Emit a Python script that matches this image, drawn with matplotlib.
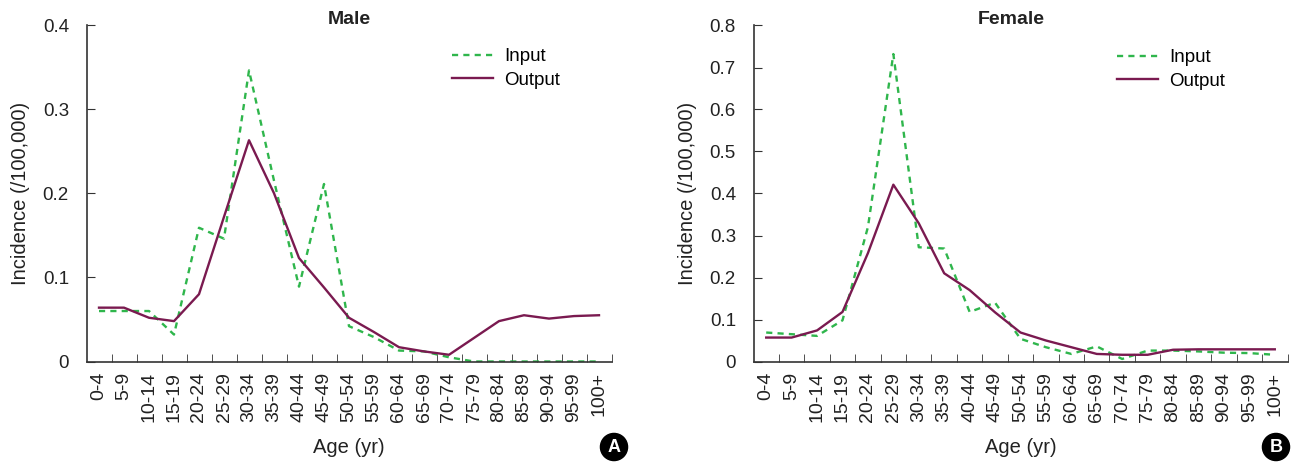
import matplotlib
matplotlib.use("Agg")
import matplotlib.pyplot as plt
import numpy as np

plt.rcParams["font.family"] = ["Liberation Sans", "DejaVu Sans"]

ages = ["0-4", "5-9", "10-14", "15-19", "20-24", "25-29", "30-34", "35-39",
        "40-44", "45-49", "50-54", "55-59", "60-64", "65-69", "70-74", "75-79",
        "80-84", "85-89", "90-94", "95-99", "100+"]

male_input = [0.060, 0.060, 0.060, 0.032, 0.159, 0.146, 0.346, 0.215, 0.089, 0.211,
              0.042, 0.029, 0.013, 0.012, 0.005, 0.0, 0.0, 0.0, 0.0, 0.0, 0.0]
male_output = [0.064, 0.064, 0.052, 0.048, 0.080, 0.172, 0.263, 0.200, 0.123, 0.088,
               0.052, 0.035, 0.017, 0.012, 0.008, 0.028, 0.048, 0.055, 0.051, 0.054, 0.055]

female_input = [0.069, 0.065, 0.061, 0.098, 0.320, 0.732, 0.272, 0.269, 0.118, 0.140,
                0.054, 0.034, 0.018, 0.036, 0.006, 0.026, 0.026, 0.024, 0.021, 0.020, 0.016]
female_output = [0.057, 0.057, 0.074, 0.118, 0.258, 0.421, 0.329, 0.210, 0.170, 0.117,
                 0.069, 0.050, 0.034, 0.018, 0.016, 0.016, 0.028, 0.029, 0.029, 0.029, 0.029]

GREEN = "#2fb64c"
MAROON = "#7a1a50"

W, H = 1296, 463
fig = plt.figure(figsize=(W / 100, H / 100), dpi=100)

# pixel boxes: left, bottom, right, top
panels = [
    dict(box=(87, 361.5, 611.5, 25), title="Male", tx=349, inp=male_input, out=male_output,
         ymax=0.4, yticks=[0, 0.1, 0.2, 0.3, 0.4], letter="A", lx=614, leg=(452, 48)),
    dict(box=(754, 361.5, 1287.5, 25.5), title="Female", tx=1011, inp=female_input, out=female_output,
         ymax=0.8, yticks=[0, 0.1, 0.2, 0.3, 0.4, 0.5, 0.6, 0.7, 0.8], letter="B", lx=1276, leg=(1117, 49)),
]

x = np.arange(len(ages))
for p in panels:
    l, b, r, t = p["box"]
    ax = fig.add_axes([l / W, 1 - b / H, (r - l) / W, (b - t) / H])
    ax.plot(x, p["inp"], color=GREEN, linestyle=(0, (2.6, 2.2)), lw=1.7, label="Input")
    ax.plot(x, p["out"], color=MAROON, lw=1.7, label="Output")
    ax.set_xlim(-0.48, 20.5)
    ax.set_ylim(0, p["ymax"])
    ax.spines["top"].set_visible(False)
    ax.spines["right"].set_visible(False)
    for s in ("left", "bottom"):
        ax.spines[s].set_color("#333333")
        ax.spines[s].set_linewidth(1.2)
    ax.set_xticks(x)
    ax.set_xticklabels(ages, rotation=90, fontsize=14, color="#222222")
    ax.set_xticks(x + 0.5, minor=True)
    ax.tick_params(axis="x", which="major", length=0, pad=7.5)
    ax.tick_params(axis="x", which="minor", direction="in", length=6, color="#333333")
    ax.set_yticks(p["yticks"])
    ax.set_yticklabels(["0"] + [f"{v:g}" for v in p["yticks"][1:]], fontsize=13.5, color="#222222")
    ax.tick_params(axis="y", direction="in", length=6, color="#333333", pad=13)
    ax.set_xlabel("Age (yr)", fontsize=14.5, labelpad=11, color="#222222")
    ax.set_ylabel("Incidence (/100,000)", fontsize=14.5, labelpad=9, color="#222222")
    fig.text(p["tx"] / W, 1 - 20 / H, p["title"], ha="center", va="center",
             fontsize=14, fontweight="bold", color="#222222")
    lx, ly = p["leg"]
    ax.legend(loc="upper left", bbox_to_anchor=(lx / W, 1 - ly / H),
              bbox_transform=fig.transFigure, frameon=False, borderpad=0,
              borderaxespad=0, fontsize=13.5, handlelength=2.2,
              handletextpad=0.6, labelspacing=0.34)
    fig.text(p["lx"] / W, 1 - 447 / H, p["letter"], ha="center", va="center",
             color="white", fontsize=13, fontweight="bold",
             bbox=dict(boxstyle="circle,pad=0.28", fc="black", ec="black"))

fig.savefig("out.png", dpi=100)
